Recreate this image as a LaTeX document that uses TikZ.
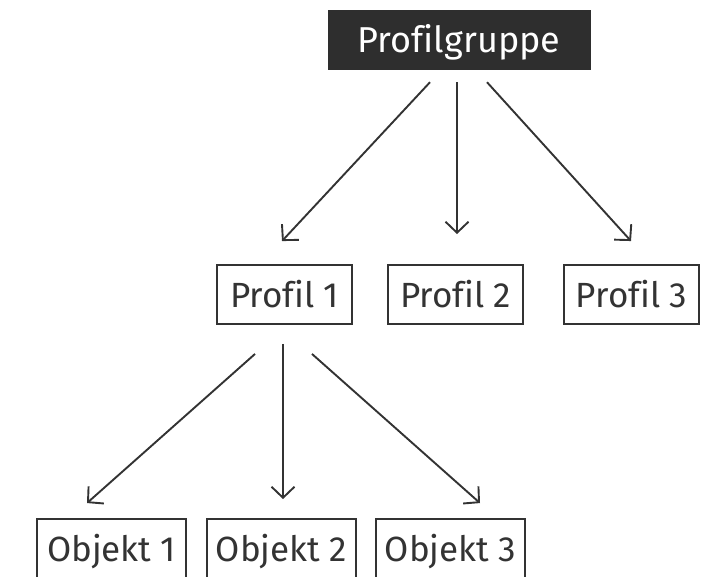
\documentclass[tikz,border=0pt]{standalone}
\usepackage{fontspec}
\setmainfont[Ligatures=NoCommon]{Fira Sans}
\usetikzlibrary{arrows.meta}
\definecolor{ink}{HTML}{333333}
\definecolor{dark}{HTML}{2E2E2E}
\tikzset{
  box/.style={draw=ink, line width=1.9pt, text=ink, minimum height=59pt, inner sep=0pt,
    text height=25pt, text depth=0pt, font=\fontsize{35}{40}\selectfont},
  topbox/.style={fill=dark, draw=dark, text=white, minimum height=59pt, minimum width=262pt, inner sep=0pt,
    text height=25pt, text depth=0pt, font=\fontsize{36}{40}\selectfont},
  arr/.style={draw=ink, line width=1.9pt, -{Straight Barb[length=11pt, width=23pt, line width=1.9pt]}}
}
\begin{document}
\begin{tikzpicture}[x=1pt, y=-1pt]
\useasboundingbox (0,0) rectangle (703,576);
\node[topbox] (pg) at (459,39.5) {Profilgruppe};
\node[box, minimum width=135pt] (p1) at (284.5,294.5) {Profil 1};
\node[box, minimum width=135pt] (p2) at (455.5,294.5) {Profil 2};
\node[box, minimum width=135pt] (p3) at (631.5,294.5) {Profil 3};
\node[box, minimum width=149pt] (o1) at (111.5,548.5) {Objekt 1};
\node[box, minimum width=149pt] (o2) at (281.5,548.5) {Objekt 2};
\node[box, minimum width=149pt] (o3) at (450.5,548.5) {Objekt 3};
\draw[arr] ([shift={(-29pt,-13pt)}]pg.south) -- ([shift={(-2.5pt,23pt)}]p1.north);
\draw[arr] ([shift={(-2pt,-13pt)}]pg.south) -- ([shift={(1.5pt,30pt)}]p2.north);
\draw[arr] ([shift={(28pt,-13pt)}]pg.south) -- ([shift={(-0.5pt,23pt)}]p3.north);
\draw[arr] ([shift={(-29.5pt,-29pt)}]p1.south) -- ([shift={(-24.5pt,15pt)}]o1.north);
\draw[arr] ([shift={(-1.5pt,-19pt)}]p1.south) -- ([shift={(1.5pt,19pt)}]o2.north);
\draw[arr] ([shift={(27.5pt,-29pt)}]p1.south) -- ([shift={(29.5pt,15pt)}]o3.north);
\end{tikzpicture}
\end{document}
